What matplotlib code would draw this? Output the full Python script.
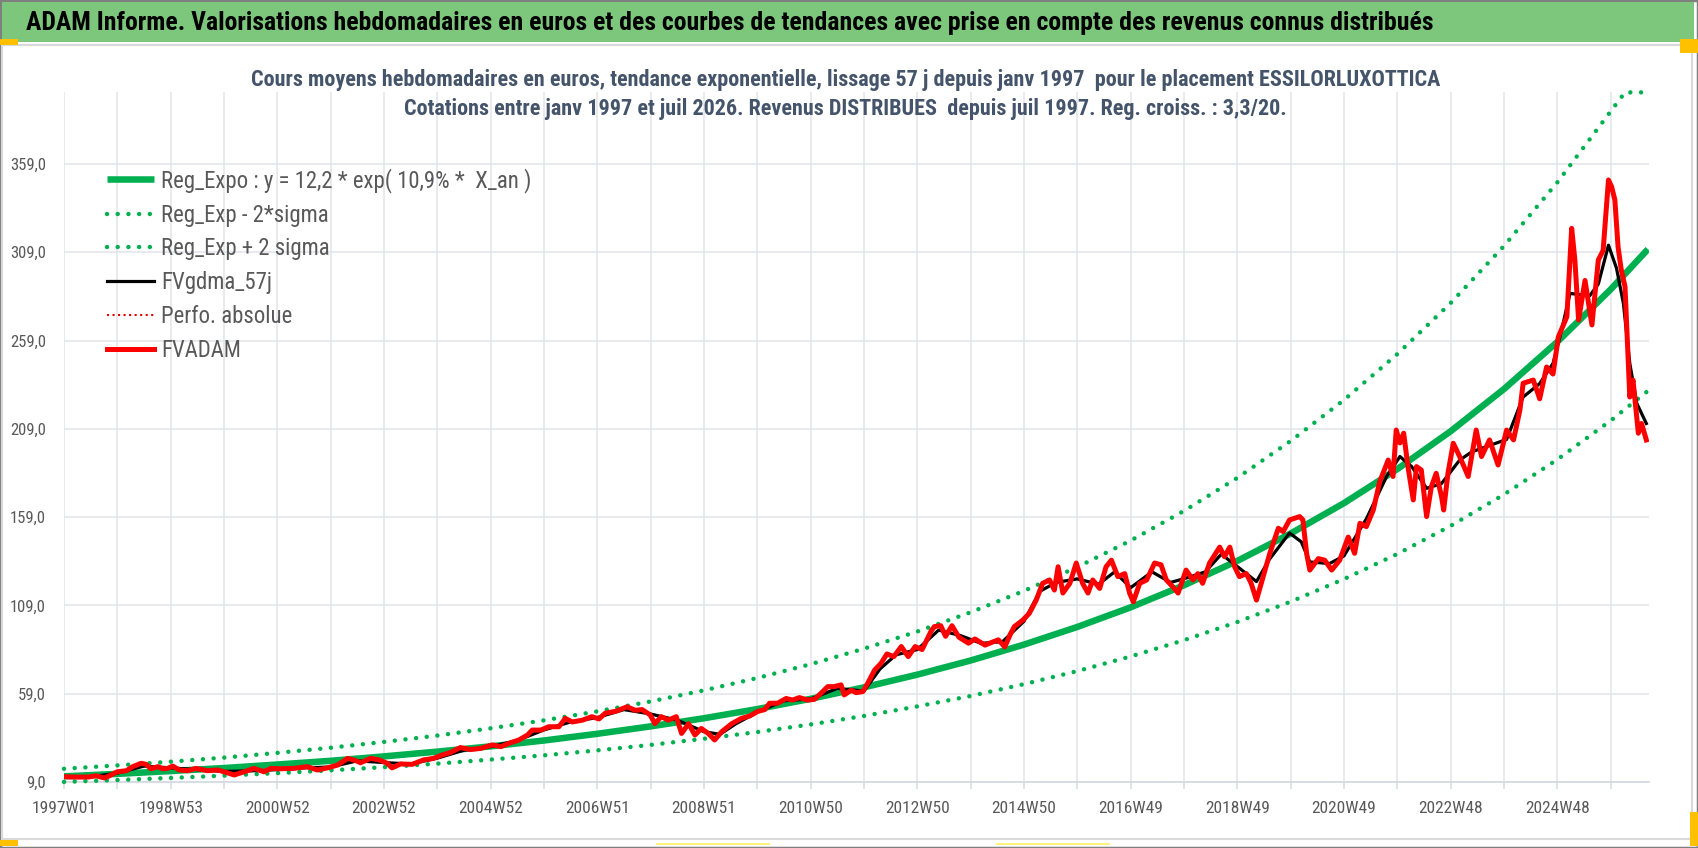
import matplotlib
matplotlib.use('Agg')
import matplotlib.pyplot as plt
from matplotlib import font_manager
from matplotlib.patches import Rectangle

# x values are years counted from 1997W01 (one category-axis year = 52 weeks)

# exponential trend and the +/- 2 sigma bands
reg_k = [0, 1, 2, 3, 4, 5, 6, 7, 8, 9, 10, 11, 12, 13, 14, 15, 16, 17, 18, 19,
         20, 21, 22, 23, 24, 25, 26, 27, 28, 29, 29.7]
reg_v = [12.2, 13.6, 15.2, 16.9, 18.9, 21.0, 23.5, 26.2, 29.2, 32.5, 36.3, 40.5,
         45.1, 50.3, 56.1, 62.6, 69.8, 77.8, 86.8, 96.8, 107.9, 120.4, 134.2,
         149.7, 166.9, 186.2, 207.6, 231.5, 258.2, 287.9, 310.7]
low_v = [9.05, 10.1, 11.3, 12.6, 14.0, 15.6, 17.4, 19.4, 21.7, 24.1, 26.9, 30.0,
         33.5, 37.3, 41.6, 46.4, 51.8, 57.7, 64.4, 71.8, 80.1, 89.3, 99.6, 111.1,
         123.9, 138.1, 154.0, 171.8, 191.6, 213.6, 230.5]
up_k = [0, 1, 2, 3, 4, 5, 6, 7, 8, 9, 10, 11, 12, 13, 14, 15, 16, 17, 18, 19,
        20, 21, 22, 23, 24, 25, 26, 27, 28, 29, 29.27, 29.7]
up_v = [16.5, 18.4, 20.5, 22.8, 25.5, 28.4, 31.7, 35.3, 39.4, 43.9, 49.0, 54.6,
        60.9, 67.9, 75.7, 84.5, 94.2, 105.1, 117.2, 130.7, 145.7, 162.5, 181.2,
        202.1, 225.3, 251.3, 280.2, 312.5, 348.5, 388.7, 399.5, 399.5]

# FVADAM (weekly valuation, red)
adam_k = [0.00, 0.20, 0.45, 0.60, 0.76, 0.85, 1.00, 1.17, 1.29, 1.45, 1.54, 1.63,
          1.76, 1.85, 1.94, 2.04, 2.16, 2.32, 2.47, 2.69, 2.88, 3.00, 3.19, 3.38,
          3.56, 3.75, 3.88, 4.06, 4.31, 4.56, 4.75, 4.94, 5.13, 5.32, 5.47, 5.56,
          5.75, 5.91, 6.06, 6.15, 6.31, 6.53, 6.74, 6.93, 7.09, 7.24, 7.43, 7.62,
          7.81, 8.03, 8.19, 8.35, 8.53, 8.69, 8.78, 8.94, 9.09, 9.28, 9.40, 9.53,
          9.72, 9.90, 10.03, 10.15, 10.34, 10.56, 10.71, 10.84, 10.99, 11.08,
          11.20, 11.33, 11.48, 11.58, 11.71, 11.83, 11.95, 12.08, 12.20, 12.33,
          12.52, 12.70, 12.86, 13.01, 13.14, 13.23, 13.38, 13.54, 13.66, 13.79,
          13.94, 14.07, 14.19, 14.32, 14.44, 14.57, 14.63, 14.76, 14.85, 14.98,
          15.07, 15.20, 15.32, 15.43, 15.56, 15.70, 15.83, 15.96, 16.09, 16.26,
          16.32, 16.44, 16.53, 16.65, 16.78, 16.96, 17.08, 17.27, 17.39, 17.52,
          17.64, 17.75, 17.82, 17.98, 18.10, 18.23, 18.35, 18.48, 18.57, 18.64,
          18.73, 18.86, 18.98, 19.10, 19.20, 19.29, 19.42, 19.54, 19.64, 19.76,
          19.89, 19.98, 20.05, 20.17, 20.30, 20.45, 20.57, 20.67, 20.79, 20.89,
          21.04, 21.17, 21.26, 21.35, 21.48, 21.67, 21.76, 21.86, 21.95, 22.04,
          22.17, 22.26, 22.36, 22.45, 22.61, 22.77, 22.86, 22.98, 23.17, 23.23,
          23.30, 23.36, 23.52, 23.64, 23.77, 23.92, 24.08, 24.20, 24.30, 24.42,
          24.55, 24.67, 24.83, 24.92, 24.98, 25.05, 25.12, 25.20, 25.30, 25.36,
          25.45, 25.55, 25.64, 25.73, 25.83, 25.87, 25.95, 26.05, 26.17, 26.33,
          26.48, 26.58, 26.73, 26.89, 27.05, 27.18, 27.30, 27.36, 27.55, 27.67,
          27.80, 27.92, 28.02, 28.18, 28.27, 28.33, 28.40, 28.52, 28.65, 28.77,
          28.86, 28.96, 29.02, 29.08, 29.14, 29.20, 29.27, 29.36, 29.42, 29.52,
          29.58, 29.67]
adam_v = [12.0, 11.8, 11.8, 12.5, 11.3, 12.5, 14.8, 15.4, 17.7, 19.6, 19.0, 16.5,
          17.7, 16.5, 16.7, 18.0, 15.8, 15.4, 16.7, 15.4, 15.8, 14.8, 13.0, 14.8,
          16.7, 14.8, 16.7, 16.5, 16.7, 17.7, 15.8, 17.0, 18.6, 22.4, 21.1, 19.9,
          22.4, 21.5, 19.6, 17.0, 19.2, 19.0, 21.5, 22.4, 24.3, 25.6, 28.5, 27.4,
          28.0, 30.0, 29.0, 31.0, 32.8, 35.6, 38.4, 38.4, 40.3, 40.3, 45.0, 43.0,
          44.0, 46.0, 44.7, 48.0, 49.0, 51.6, 49.6, 50.0, 47.0, 42.1,
          46.0, 44.0, 46.0, 36.5, 42.0, 35.6, 39.3, 36.5, 32.8, 37.4,
          42.0, 45.0, 46.4, 49.0, 50.0, 53.6, 53.6, 56.3, 55.4, 56.8,
          55.4, 55.8, 59.1, 63.0, 63.0, 64.0, 58.3, 61.0, 59.6, 60.2,
          64.9, 72.4, 76.2, 81.5, 80.0, 85.7, 80.0, 85.7, 84.0, 94.5,
          97.0, 97.5, 91.5, 97.5, 91.0, 87.6, 90.0, 86.5, 88.0, 89.5,
          85.5, 93.0, 97.0, 100.7, 104.5, 112.0, 121.5, 123.4, 117.7, 130.9,
          116.0, 121.5, 133.0, 121.5, 116.0, 123.4, 118.6, 130.9, 134.6, 125.3,
          127.0, 116.0, 111.0, 121.5, 123.4, 133.0, 132.0, 123.4, 119.6, 116.0,
          129.0, 123.4, 127.0, 121.5, 133.0, 142.0, 136.6, 142.0, 130.9, 125.3,
          127.0, 121.5, 112.0, 121.5, 138.5, 152.7, 150.8, 157.4, 159.3, 157.4,
          138.4, 129.0, 135.5, 134.6, 129.0, 134.6, 147.7, 138.5, 155.5, 153.6,
          163.0, 179.0, 191.3, 182.0, 208.3, 201.0, 206.5, 187.6, 168.7, 187.6,
          185.7, 159.3, 176.3, 183.8, 170.6, 163.0, 183.8, 200.8, 193.3, 182.0,
          208.3, 193.3, 202.7, 188.5, 208.3, 202.7, 219.7, 234.8, 236.6, 226.0,
          244.0, 240.0, 261.0, 272.5, 322.5, 304.6, 270.6, 293.0, 267.8, 304.6,
          310.0, 349.9, 346.0, 338.6, 312.0, 299.0, 289.5, 227.0, 236.6, 206.5,
          212.0, 202.7]

# FVgdma_57j (smoothed valuation, black)
gdma_k = [0.0, 0.5, 1.0, 1.5, 2.0, 2.5, 3.0, 3.5, 4.0, 4.5, 5.0, 5.5, 6.0, 6.5,
          7.0, 7.5, 8.0, 8.5, 9.0, 9.5, 10.0, 10.5, 11.0, 11.5, 12.0, 12.3, 12.6,
          13.0, 13.5, 14.0, 14.5, 15.0, 15.3, 15.6, 16.0, 16.4, 16.8, 17.2, 17.6,
          18.0, 18.3, 18.6, 19.0, 19.4, 19.7, 20.0, 20.4, 20.75, 21.1, 21.4, 21.7,
          22.0, 22.36, 22.6, 22.98, 23.2, 23.36, 23.73, 24.0, 24.42, 24.8, 25.05,
          25.27, 25.55, 25.83, 26.17, 26.4, 26.67, 27.05, 27.36, 27.67, 27.92,
          28.05, 28.24, 28.4, 28.61, 28.77, 28.96, 29.11, 29.24, 29.36, 29.49,
          29.67]
gdma_v = [12.0, 12.0, 14.0, 18.0, 17.0, 16.0, 15.0, 15.3, 16.0, 17.0, 17.5, 21.0,
          20.0, 19.2, 22.5, 27.0, 29.0, 32.5, 38.5, 43.0, 45.5, 50.0, 47.5, 44.0,
          37.5, 36.0, 42.0, 48.5, 55.0, 56.0, 62.0, 60.5, 73.0, 81.0, 84.0, 95.0,
          92.0, 87.5, 88.5, 100.0, 117.0, 122.0, 124.0, 121.0, 128.0, 119.0, 128.0,
          122.0, 125.0, 128.0, 138.0, 131.0, 122.5, 135.0, 150.0, 145.0, 133.6,
          132.7, 137.0, 158.0, 182.0, 193.3, 187.6, 175.3, 178.0, 191.3, 196.0,
          198.9, 203.0, 227.0, 234.6, 246.0, 261.0, 285.7, 285.0, 284.4, 291.0,
          313.0, 300.0, 280.0, 246.0, 223.5, 212.0]

x_label_pos = [0, 2, 4, 6, 8, 10, 12, 14, 16, 18, 20, 22, 24, 26, 28]
x_labels = ['1997W01', '1998W53', '2000W52', '2002W52', '2004W52', '2006W51',
            '2008W51', '2010W50', '2012W50', '2014W50', '2016W49', '2018W49',
            '2020W49', '2022W48', '2024W48']
y_ticks = [9, 59, 109, 159, 209, 259, 309, 359]

title = ("ADAM Informe. Valorisations hebdomadaires en euros et des courbes de "
         "tendances avec prise en compte des revenus connus distribués")
sub1 = ("Cours moyens hebdomadaires en euros, tendance exponentielle, lissage 57 j "
        "depuis janv 1997  pour le placement ESSILORLUXOTTICA")
sub2 = ("Cotations entre janv 1997 et juil 2026. Revenus DISTRIBUES  depuis juil "
        "1997. Reg. croiss. : 3,3/20.")
legend_labels = ['Reg_Expo : y = 12,2 * exp( 10,9% *  X_an )', 'Reg_Exp - 2*sigma',
                 'Reg_Exp + 2 sigma', 'FVgdma_57j', 'Perfo. absolue', 'FVADAM']


def pick_font(names):
    for name in names:
        try:
            font_manager.findfont(font_manager.FontProperties(family=name),
                                  fallback_to_default=False)
            return name
        except ValueError:
            pass
    return 'DejaVu Sans'


FONT = pick_font(['Liberation Sans Narrow', 'Roboto Condensed', 'Liberation Sans'])
plt.rcParams['font.family'] = [FONT, 'DejaVu Sans']

W, H = 1698, 848
GREEN = '#00B050'
GREY_TXT = '#595959'
GRID = '#E1E4EA'

fig = plt.figure(figsize=(W / 100, H / 100), dpi=100)
renderer = fig.canvas.get_renderer()


def fx(px):
    return px / W


def fy(px):
    return 1 - px / H


def fit_size(text, width_px, size=14, weight='normal'):
    t = fig.text(0, 0, text, fontsize=size, weight=weight)
    w = t.get_window_extent(renderer).width
    t.remove()
    return size * width_px / w


# frame, title bar and Excel selection handles
fig.patches.append(Rectangle((0, 0), 1, 1, transform=fig.transFigure, fill=False,
                             ec='#7F7F7F', lw=2.5))
fig.patches.append(Rectangle((fx(2), fy(42)), fx(1692), 40 / H, transform=fig.transFigure,
                             fc='#7DC77D', ec='none'))
fig.patches.append(Rectangle((fx(2), fy(839)), fx(1690), 794 / H, transform=fig.transFigure,
                             fill=False, ec='#D9D9D9', lw=1.5))
for (x0, y0, w0, h0, c) in [(0, 39, 18, 6, '#FFC000'), (1680, 39, 18, 14, '#FFC000'),
                            (0, 840, 18, 6, '#FFC000'), (1690, 812, 8, 34, '#FFC000'),
                            (656, 843, 114, 2, '#FFF27A'), (996, 843, 114, 2, '#FFF27A')]:
    fig.patches.append(Rectangle((fx(x0), fy(y0 + h0)), w0 / W, h0 / H,
                                 transform=fig.transFigure, fc=c, ec='none'))

fig.text(fx(26), fy(23), title, ha='left', va='center', weight='bold', color='black',
         fontsize=fit_size(title, 1413, weight='bold'))
s_sub = fit_size(sub1, 1198, weight='bold')
fig.text(fx(846), fy(80), sub1, ha='center', va='center', weight='bold',
         color='#44546A', fontsize=s_sub)
fig.text(fx(845), fy(109), sub2, ha='center', va='center', weight='bold',
         color='#44546A', fontsize=s_sub)

ax = fig.add_axes([fx(64), 66 / H, fx(1585), (782 - 91.5) / H])
ax.set_xlim(0, 29.72)
ax.set_ylim(9, 400)

dot = (0, (0.01, 2.4))
ax.plot(reg_k, reg_v, color=GREEN, lw=4.7, label=legend_labels[0], zorder=3,
        solid_capstyle='butt')
ax.plot(reg_k, low_v, color=GREEN, lw=3.2, ls=dot, dash_capstyle='round',
        label=legend_labels[1], zorder=3, clip_on=False)
ax.plot(up_k, up_v, color=GREEN, lw=3.2, ls=dot, dash_capstyle='round',
        label=legend_labels[2], zorder=3, clip_on=False)
ax.plot(gdma_k, gdma_v, color='black', lw=2.3, label=legend_labels[3], zorder=4)
ax.plot([], [], color='#E00000', lw=1.5, ls=':', label=legend_labels[4])
ax.plot(adam_k, adam_v, color='#FF0000', lw=3.6, label=legend_labels[5], zorder=5,
        solid_joinstyle='round')

ax.set_xticks(range(0, 30))
ax.set_xticklabels([x_labels[x_label_pos.index(i)] if i in x_label_pos else ''
                    for i in range(0, 30)])
ax.set_yticks(y_ticks)
ax.set_yticklabels([f'{v:.1f}'.replace('.', ',') for v in y_ticks])
ax.grid(True, color=GRID, lw=1.1)
ax.set_axisbelow(True)
for side in ['top', 'right', 'left']:
    ax.spines[side].set_visible(False)
ax.spines['bottom'].set_color('#D6DAE2')
ax.spines['bottom'].set_linewidth(1.3)
ax.tick_params(axis='x', length=5, width=1.1, color='#D6DAE2', labelcolor=GREY_TXT,
               labelsize=12.5, pad=9)
ax.tick_params(axis='y', length=0, labelcolor=GREY_TXT, labelsize=12, pad=13)

leg_size = fit_size(legend_labels[0], 373)
leg = ax.legend(loc='upper left', bbox_to_anchor=(fx(107), fy(168)),
                bbox_transform=fig.transFigure, frameon=False, fontsize=leg_size,
                handlelength=47 / (leg_size * 100 / 72), handletextpad=0.3,
                labelspacing=0.47, borderpad=0, borderaxespad=0)
for t in leg.get_texts():
    t.set_color(GREY_TXT)

fig.savefig('out.png', dpi=100)
